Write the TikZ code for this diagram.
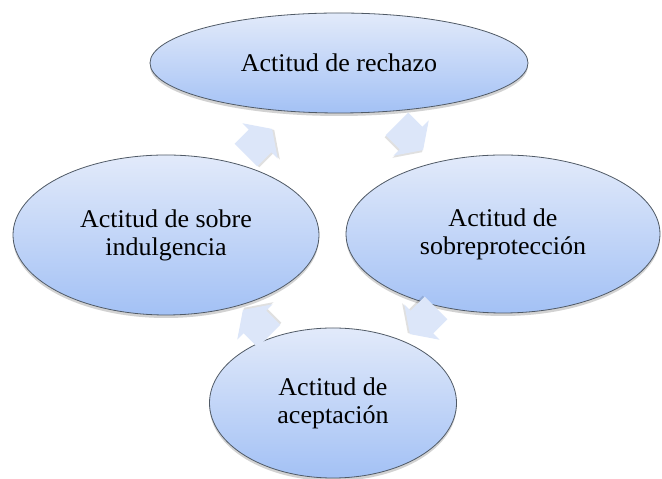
\documentclass[tikz,border=0pt]{standalone}
\usepackage{fontspec}
\setmainfont{Liberation Serif}[FakeStretch=1.02]
\usetikzlibrary{shapes.geometric,shadows}
\definecolor{elltop}{HTML}{E2EAFA}
\definecolor{ellbot}{HTML}{A3C1F5}
\definecolor{arrfill}{HTML}{DCE6F9}
\definecolor{ellline}{HTML}{505A66}
\tikzset{
  phase/.style={ellipse, draw=ellline, line width=0.8bp,
    top color=elltop, bottom color=ellbot, inner sep=0pt, align=center,
    font=\fontsize{25.5bp}{28bp}\selectfont,
    drop shadow={shadow xshift=0bp, shadow yshift=-3bp, opacity=0.25, fill=black!70}},
  cycarrow/.pic={
    \fill[black, opacity=0.12] (0.8,-2.2) ++(-18.5,-16) -- ++(20,0) -- ++(0,-9) -- ++(17,25) -- ++(-17,25) -- ++(0,-9) -- ++(-20,0) -- cycle;
    \fill[arrfill] (-18.5,-16) -- (1.5,-16) -- (1.5,-25) -- (18.5,0) -- (1.5,25) -- (1.5,16) -- (-18.5,16) -- cycle;
  }
}
\begin{document}
\begin{tikzpicture}[x=1bp, y=1bp]
  \useasboundingbox[fill=white] (0,0) rectangle (662,479);
  \node[phase, minimum width=378bp, minimum height=100bp] (rech) at (339,416) {Actitud de rechazo};
  \node[phase, minimum width=306bp, minimum height=160bp] (indul) at (166,244) {Actitud de sobre\\indulgencia};
  \node[phase, minimum width=314bp, minimum height=158bp] (sobre) at (503,245) {Actitud de\\sobreprotección};
  \node[phase, minimum width=247bp, minimum height=150bp] (acep) at (333,76) {Actitud de\\aceptación};
  \coordinate (a1) at (259,337);
  \coordinate (a2) at (410,342);
  \coordinate (a3) at (423,158);
  \coordinate (a4) at (256,156);
  \pic[rotate=45] at (a1) {cycarrow};
  \pic[rotate=-45] at (a2) {cycarrow};
  \pic[rotate=-135] at (a3) {cycarrow};
  \pic[rotate=135] at (a4) {cycarrow};
\end{tikzpicture}
\end{document}
